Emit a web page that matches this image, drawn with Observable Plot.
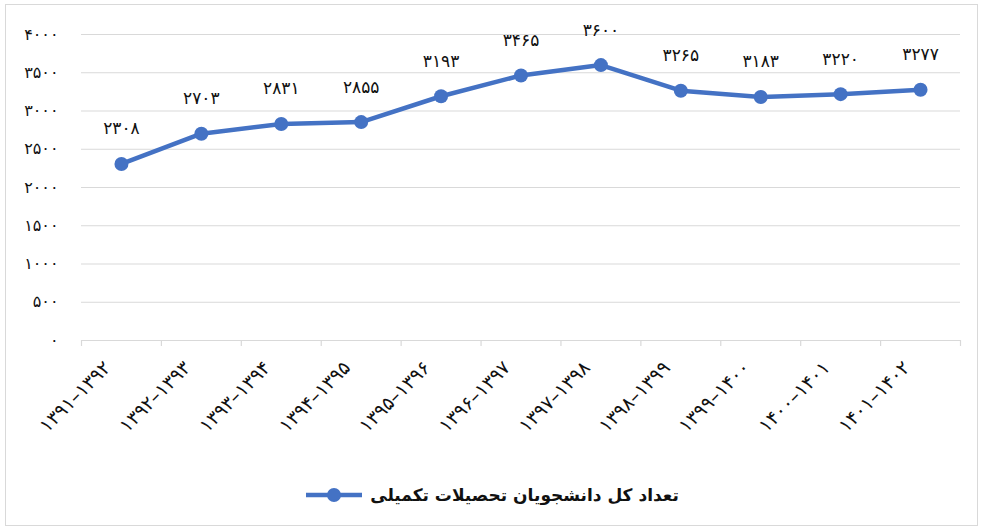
<!DOCTYPE html>
<html><head><meta charset="utf-8">
<script src="https://cdn.jsdelivr.net/npm/d3@7"></script>
<script src="https://cdn.jsdelivr.net/npm/@observablehq/plot@0.6"></script>
<style>
html,body{margin:0;padding:0;background:#fff;}
#wrap{position:relative;width:985px;height:532px;overflow:hidden;font-family:"DejaVu Sans",sans-serif;}
#frame{position:absolute;left:5px;top:4px;width:973px;height:522px;border:1px solid #d9d9d9;box-sizing:border-box;}
#chart{position:absolute;left:0;top:0;}
#legend{position:absolute;left:0;top:485px;width:985px;display:flex;justify-content:center;align-items:center;gap:8px;}
#legend span{font-weight:bold;font-size:17px;color:#111;direction:rtl;}
</style></head>
<body><div id="wrap"><div id="frame"></div><div id="chart"></div><div id="legend"></div></div>
<script>
const categories = ["۱۳۹۱–۱۳۹۲","۱۳۹۲–۱۳۹۳","۱۳۹۳–۱۳۹۴","۱۳۹۴–۱۳۹۵","۱۳۹۵–۱۳۹۶","۱۳۹۶–۱۳۹۷","۱۳۹۷–۱۳۹۸","۱۳۹۸–۱۳۹۹","۱۳۹۹–۱۴۰۰","۱۴۰۰–۱۴۰۱","۱۴۰۱–۱۴۰۲"];
const values = [2308, 2703, 2831, 2855, 3193, 3465, 3600, 3265, 3183, 3220, 3277];
const yTicks = [0, 500, 1000, 1500, 2000, 2500, 3000, 3500, 4000];
const seriesName = "تعداد کل دانشجویان تحصیلات تکمیلی";
const color = "#4472C4";

const fa = v => String(v).replace(/\d/g, d => "۰۱۲۳۴۵۶۷۸۹"[d]);
const data = categories.map((c, i) => ({i, c, v: values[i]}));
const xc = d => d.i + 0.5;

const chart = Plot.plot({
  width: 985, height: 470,
  marginLeft: 81, marginRight: 25, marginTop: 34, marginBottom: 130,
  x: {domain: [0, categories.length], axis: null, label: null},
  y: {domain: [0, 4000], axis: null, label: null},
  style: {fontFamily: "DejaVu Sans, sans-serif", background: "transparent", color: "#111"},
  marks: [
    Plot.ruleY(yTicks, {stroke: "#d9d9d9", strokeWidth: 1.2}),
    Plot.axisX({ticks: d3.range(0, categories.length + 1), tickSize: 6, tickFormat: () => "", stroke: "#d9d9d9", strokeWidth: 1.2, anchor: "bottom", label: null}),
    Plot.axisY({ticks: yTicks, tickSize: 0, tickPadding: 23, tickFormat: fa, fontSize: 16, anchor: "left", label: null}),
    Plot.line(data, {x: xc, y: "v", stroke: color, strokeWidth: 4.5}),
    Plot.dot(data, {x: xc, y: "v", r: 7, fill: color}),
    Plot.text(data, {x: xc, y: "v", text: d => fa(d.v), dy: -35, fontSize: 17, fill: "#111"}),
    Plot.text(data, {x: xc, y: () => 0, text: "c", rotate: -45, textAnchor: "end", dx: -14, dy: 24, fontSize: 19, fill: "#111"})
  ]
});
document.getElementById("chart").appendChild(chart);

const lg = document.getElementById("legend");
lg.innerHTML = `<svg width="56" height="16"><line x1="0" y1="8" x2="56" y2="8" stroke="${color}" stroke-width="4.5"/><circle cx="28" cy="8" r="7" fill="${color}"/></svg><span>${seriesName}</span>`;
</script></body></html>
